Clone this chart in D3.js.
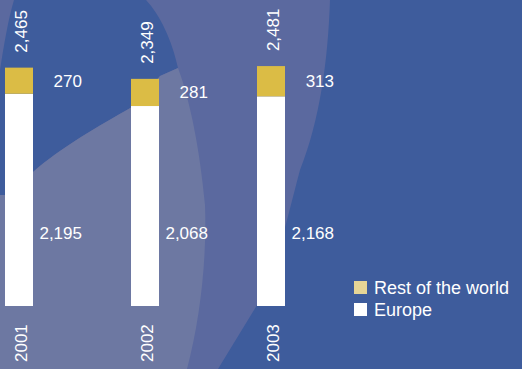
<!DOCTYPE html>
<html>
<head>
<meta charset="utf-8">
<script src="https://cdn.jsdelivr.net/npm/d3@7/dist/d3.min.js"></script>
<style>
  html, body { margin: 0; padding: 0; background: #3e5c9c; }
  svg { display: block; }
  text { font-family: "Liberation Sans", Arial, Helvetica, sans-serif; fill: #ffffff; }
</style>
</head>
<body>
<script>
// Sales volume by region, 2001–2003
const years = ["2001", "2002", "2003"];
const europe = [2195, 2068, 2168];
const restOfWorld = [270, 281, 313];
const totals = [2465, 2349, 2481];
const legendLabels = ["Rest of the world", "Europe"];
const europeLabelAt = 750; // value level where the Europe figures are printed

const W = 522, H = 369;
const colors = { rest: "#dbbc45", restKey: "#e6d596", europe: "#ffffff" };

const svg = d3.select("body").append("svg").attr("width", W).attr("height", H);

// Decorative backdrop: soft swirl of blue and lilac tones
const bg = svg.append("g");
bg.append("rect").attr("width", W).attr("height", H).attr("fill", "#3e5c9c");
const line = d3.line().curve(d3.curveCatmullRomClosed.alpha(0.5));
bg.append("path").attr("fill", "#5b699f").attr("d", line([
  [0, 0], [330, 0], [326, 90], [302, 165], [288, 215], [268, 285], [248, 318], [218, 369], [0, 369]
].map(p => p))).attr("d", "M0,0 L330,0 C328,60 320,120 300,170 C288,215 276,270 257,305 L218,369 L0,369 Z");
bg.append("path").attr("fill", "#3e5c9c")
  .attr("d", "M14,0 L146,0 C160,15 172,40 178,68 L160,76 C150,88 140,100 132,107 C100,125 60,148 33,172 L5,195 L0,195 L0,70 C4,45 8,20 14,0 Z");
bg.append("path").attr("fill", "#6d78a2")
  .attr("d", "M0,195 L5,195 L33,172 C60,148 100,125 132,107 C140,100 150,88 160,76 L178,68 C190,100 200,150 205,205 C207,260 200,320 187,369 L0,369 Z");

const x = d3.scaleBand().domain(years).range([5, 285]).paddingInner(0.7778).paddingOuter(0);
const y = d3.scaleLinear().domain([0, 2500]).range([306, 64.25]);

const rows = years.map((yr, i) => ({ yr, europe: europe[i], rest: restOfWorld[i], total: totals[i] }));

const g = svg.append("g");
const bw = x.bandwidth();

// Europe segment
g.selectAll("rect.eu").data(rows).join("rect")
  .attr("x", d => x(d.yr)).attr("width", bw)
  .attr("y", d => y(d.europe)).attr("height", d => y(0) - y(d.europe))
  .attr("fill", colors.europe);

// Rest-of-world segment stacked on top
g.selectAll("rect.rw").data(rows).join("rect")
  .attr("x", d => x(d.yr)).attr("width", bw)
  .attr("y", d => y(d.europe + d.rest)).attr("height", d => y(d.europe) - y(d.europe + d.rest))
  .attr("fill", colors.rest);

// Totals, rotated above each bar
g.selectAll("text.total").data(rows).join("text")
  .attr("transform", d => `translate(${x(d.yr) + bw / 2 + 2},${y(d.europe + d.rest) - 15}) rotate(-90)`)
  .attr("dy", "0.35em").attr("font-size", 17)
  .text(d => d3.format(",")(d.total));

// Segment values to the right of each bar
g.selectAll("text.rw").data(rows).join("text")
  .attr("x", d => x(d.yr) + bw + 49)
  .attr("y", d => y(d.europe + d.rest / 2))
  .attr("dy", "0.35em").attr("text-anchor", "end").attr("font-size", 17)
  .text(d => d3.format(",")(d.rest));

g.selectAll("text.eu").data(rows).join("text")
  .attr("x", d => x(d.yr) + bw + 49)
  .attr("y", y(europeLabelAt))
  .attr("dy", "0.35em").attr("text-anchor", "end").attr("font-size", 17)
  .text(d => d3.format(",")(d.europe));

// Year labels, rotated below each bar
g.selectAll("text.year").data(rows).join("text")
  .attr("transform", d => `translate(${x(d.yr) + bw / 2 + 2},362) rotate(-90)`)
  .attr("dy", "0.35em").attr("font-size", 17)
  .text(d => d.yr);

// Legend
const legend = svg.append("g").attr("transform", "translate(354,281)");
const keyColors = [colors.restKey, colors.europe];
legendLabels.forEach((lab, i) => {
  const row = legend.append("g").attr("transform", `translate(0,${i * 22})`);
  row.append("rect").attr("width", 13).attr("height", 13).attr("fill", keyColors[i]);
  row.append("text").attr("x", 20).attr("y", 6.5).attr("dy", "0.35em")
    .attr("font-size", 18).text(lab);
});
</script>
</body>
</html>
